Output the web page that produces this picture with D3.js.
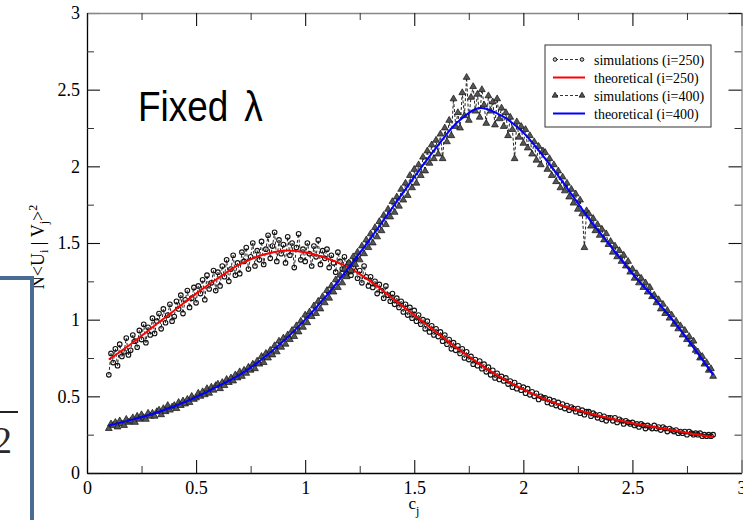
<!DOCTYPE html>
<html>
<head>
<meta charset="utf-8">
<script src="https://cdn.jsdelivr.net/npm/d3@7"></script>
<style>
body { margin: 0; background: #fff; }
svg { display: block; }
.tick text { font-family: "Liberation Serif", "Times New Roman", serif; font-size: 18px; fill: #000; }
</style>
</head>
<body>
<div id="chart"></div>
<script>
// c_j grid of the simulations
var simC = [0.10,0.11,0.12,0.13,0.14,0.15,0.16,0.17,0.18,0.19,
    0.20,0.21,0.22,0.23,0.24,0.25,0.26,0.27,0.28,0.29,
    0.30,0.31,0.32,0.33,0.34,0.35,0.36,0.37,0.38,0.39,
    0.40,0.41,0.42,0.43,0.44,0.45,0.46,0.47,0.48,0.49,
    0.50,0.51,0.52,0.53,0.54,0.55,0.56,0.57,0.58,0.59,
    0.60,0.61,0.62,0.63,0.64,0.65,0.66,0.67,0.68,0.69,
    0.70,0.71,0.72,0.73,0.74,0.75,0.76,0.77,0.78,0.79,
    0.80,0.81,0.82,0.83,0.84,0.85,0.86,0.87,0.88,0.89,
    0.90,0.91,0.92,0.93,0.94,0.95,0.96,0.97,0.98,0.99,
    1.00,1.01,1.02,1.03,1.04,1.05,1.06,1.07,1.08,1.09,
    1.10,1.11,1.12,1.13,1.14,1.15,1.16,1.17,1.18,1.19,
    1.20,1.21,1.22,1.23,1.24,1.25,1.26,1.27,1.28,1.29,
    1.30,1.31,1.32,1.33,1.34,1.35,1.36,1.37,1.38,1.39,
    1.40,1.41,1.42,1.43,1.44,1.45,1.46,1.47,1.48,1.49,
    1.50,1.51,1.52,1.53,1.54,1.55,1.56,1.57,1.58,1.59,
    1.60,1.61,1.62,1.63,1.64,1.65,1.66,1.67,1.68,1.69,
    1.70,1.71,1.72,1.73,1.74,1.75,1.76,1.77,1.78,1.79,
    1.80,1.81,1.82,1.83,1.84,1.85,1.86,1.87,1.88,1.89,
    1.90,1.91,1.92,1.93,1.94,1.95,1.96,1.97,1.98,1.99,
    2.00,2.01,2.02,2.03,2.04,2.05,2.06,2.07,2.08,2.09,
    2.10,2.11,2.12,2.13,2.14,2.15,2.16,2.17,2.18,2.19,
    2.20,2.21,2.22,2.23,2.24,2.25,2.26,2.27,2.28,2.29,
    2.30,2.31,2.32,2.33,2.34,2.35,2.36,2.37,2.38,2.39,
    2.40,2.41,2.42,2.43,2.44,2.45,2.46,2.47,2.48,2.49,
    2.50,2.51,2.52,2.53,2.54,2.55,2.56,2.57,2.58,2.59,
    2.60,2.61,2.62,2.63,2.64,2.65,2.66,2.67,2.68,2.69,
    2.70,2.71,2.72,2.73,2.74,2.75,2.76,2.77,2.78,2.79,
    2.80,2.81,2.82,2.83,2.84,2.85,2.86,2.87];

// simulations (i=250)
var simLow = [0.64,0.78,0.72,0.81,0.70,0.84,0.76,0.79,0.88,0.77,
    0.80,0.90,0.86,0.82,0.93,0.87,0.97,0.85,0.95,0.90,
    1.01,0.91,0.99,1.04,0.94,1.07,0.98,1.03,1.10,0.99,
    1.02,1.12,1.07,1.16,1.04,1.13,1.19,1.08,1.14,1.21,
    1.11,1.22,1.17,1.26,1.13,1.29,1.20,1.24,1.32,1.19,
    1.31,1.22,1.35,1.28,1.39,1.25,1.33,1.42,1.29,1.37,
    1.30,1.44,1.38,1.47,1.33,1.41,1.50,1.35,1.45,1.39,
    1.51,1.36,1.46,1.55,1.40,1.48,1.57,1.38,1.52,1.43,
    1.49,1.37,1.54,1.42,1.50,1.34,1.47,1.56,1.39,1.46,
    1.38,1.50,1.43,1.35,1.48,1.41,1.52,1.36,1.45,1.40,
    1.46,1.34,1.42,1.37,1.31,1.44,1.38,1.33,1.41,1.30,
    1.37,1.29,1.34,1.40,1.27,1.32,1.24,1.35,1.28,1.22,
    1.28,1.21,1.25,1.17,1.23,1.19,1.14,1.22,1.16,1.12,
    1.17,1.10,1.14,1.08,1.12,1.05,1.10,1.03,1.08,1.01,
    1.06,0.99,1.03,0.97,1.00,0.94,0.99,0.92,0.96,0.90,
    0.94,0.89,0.92,0.86,0.90,0.84,0.87,0.81,0.85,0.80,
    0.83,0.78,0.81,0.75,0.79,0.74,0.76,0.71,0.74,0.70,
    0.73,0.68,0.71,0.66,0.69,0.64,0.67,0.62,0.65,0.61,
    0.63,0.60,0.62,0.58,0.60,0.56,0.59,0.55,0.57,0.54,
    0.56,0.52,0.55,0.51,0.53,0.50,0.52,0.48,0.50,0.49,
    0.49,0.46,0.48,0.45,0.47,0.44,0.46,0.43,0.45,0.42,
    0.44,0.41,0.43,0.42,0.40,0.42,0.39,0.41,0.38,0.40,
    0.40,0.37,0.39,0.38,0.36,0.38,0.35,0.37,0.34,0.36,
    0.36,0.34,0.36,0.33,0.35,0.34,0.32,0.34,0.33,0.32,
    0.33,0.31,0.32,0.30,0.32,0.31,0.29,0.31,0.30,0.29,
    0.31,0.29,0.30,0.28,0.30,0.29,0.27,0.29,0.28,0.27,
    0.28,0.26,0.27,0.26,0.27,0.25,0.27,0.26,0.25,0.26,
    0.25,0.26,0.24,0.25,0.24,0.25,0.24,0.25];

// simulations (i=400)
var simHigh = [0.29,0.32,0.31,0.33,0.30,0.34,0.32,0.31,0.35,0.33,
    0.34,0.36,0.33,0.37,0.35,0.38,0.36,0.35,0.39,0.37,
    0.39,0.37,0.40,0.41,0.38,0.42,0.40,0.44,0.41,0.43,
    0.44,0.42,0.46,0.44,0.47,0.45,0.48,0.46,0.50,0.48,
    0.49,0.52,0.50,0.53,0.51,0.55,0.52,0.56,0.54,0.57,
    0.58,0.55,0.59,0.57,0.61,0.59,0.62,0.60,0.64,0.62,
    0.66,0.63,0.67,0.65,0.69,0.67,0.71,0.68,0.73,0.71,
    0.76,0.72,0.78,0.75,0.80,0.77,0.83,0.79,0.86,0.82,
    0.88,0.84,0.90,0.87,0.93,0.89,0.96,0.92,0.99,0.95,
    1.03,0.98,1.05,1.02,1.09,1.04,1.12,1.07,1.15,1.11,
    1.19,1.14,1.22,1.18,1.26,1.21,1.29,1.24,1.33,1.28,
    1.37,1.32,1.41,1.36,1.44,1.39,1.48,1.43,1.52,1.47,
    1.56,1.50,1.60,1.54,1.64,1.58,1.68,1.62,1.72,1.67,
    1.77,1.70,1.80,1.74,1.85,1.78,1.89,1.81,1.94,1.86,
    1.98,1.89,2.01,1.94,2.06,1.97,2.10,2.02,2.14,2.05,
    2.17,2.08,2.21,2.05,2.25,2.16,2.30,2.20,2.44,2.26,
    2.35,2.25,2.48,2.33,2.58,2.30,2.45,2.52,2.36,2.47,
    2.32,2.50,2.40,2.28,2.46,2.36,2.42,2.27,2.44,2.31,
    2.38,2.26,2.35,2.20,2.32,2.24,2.05,2.29,2.19,2.26,
    2.15,2.24,2.12,2.20,2.08,2.16,2.04,2.13,2.01,2.10,
    2.09,1.98,2.05,1.94,2.01,1.90,1.97,1.86,1.93,1.84,
    1.89,1.80,1.85,1.76,1.82,1.72,1.78,1.69,1.47,1.71,
    1.69,1.61,1.66,1.58,1.62,1.55,1.59,1.52,1.56,1.49,
    1.51,1.44,1.48,1.41,1.45,1.38,1.42,1.35,1.38,1.31,
    1.33,1.27,1.30,1.24,1.27,1.21,1.24,1.18,1.21,1.15,
    1.16,1.11,1.13,1.07,1.10,1.04,1.06,1.01,1.03,0.97,
    0.99,0.94,0.96,0.90,0.93,0.87,0.89,0.84,0.86,0.80,
    0.79,0.75,0.76,0.71,0.72,0.67,0.68,0.63];

// theoretical curves
var theoryC = [0.1,0.2,0.3,0.4,0.5,0.6,0.7,0.8,0.9,1.0,1.1,1.2,1.3,1.4,1.5,
    1.6,1.7,1.8,1.9,2.0,2.1,2.2,2.3,2.4,2.5,2.6,2.7,2.8,2.87];
var theoryLow = [0.74,0.84,0.95,1.06,1.17,1.27,1.36,1.42,1.45,1.44,1.40,1.34,1.25,1.14,1.03,
    0.92,0.81,0.71,0.62,0.545,0.48,0.43,0.39,0.355,0.325,0.30,0.275,0.25,0.235];
var theoryHigh = [0.31,0.345,0.385,0.435,0.495,0.565,0.64,0.74,0.86,1.00,1.16,1.34,1.53,1.73,1.93,
    2.12,2.29,2.38,2.33,2.22,2.05,1.86,1.66,1.48,1.30,1.14,0.97,0.78,0.64];

var majorTicks = [0,0.5,1,1.5,2,2.5,3];
var minorTicks = [0.25,0.75,1.25,1.75,2.25,2.75];

var legendLabels = ["simulations (i=250)","theoretical (i=250)","simulations (i=400)","theoretical (i=400)"];

var serif = "'Liberation Serif', 'Times New Roman', serif";

var svgWidth = 743;
var svgHeight = 520;

var margin = {
    top : 13,
    right : 1.5,
    bottom : 47,
    left : 87
};

var width = svgWidth - margin.left - margin.right;
var height = svgHeight - margin.top - margin.bottom;

var svg = d3.select("#chart")
    .append("svg")
    .attr("width", svgWidth)
    .attr("height", svgHeight);

var chartGroup = svg.append("g")
    .attr("transform", `translate(${margin.left}, ${margin.top})`);

var xScale = d3.scaleLinear().domain([0,3]).range([0,width]);
var yScale = d3.scaleLinear().domain([0,3]).range([height,0]);

//Axes: major + minor ticks pointing inward
function styleAxis(g, domainColor){
    g.select(".domain").attr("stroke", domainColor).attr("stroke-width", 1.3);
    g.selectAll(".tick line").attr("stroke", "#111").attr("stroke-width", 1.1);
}
function styleMinor(g){
    g.select(".domain").remove();
    g.selectAll(".tick line").attr("stroke", "#333");
}

chartGroup.append("g")
    .attr("transform", `translate(0,${height})`)
    .call(d3.axisBottom(xScale).tickValues(majorTicks).tickSizeInner(-13).tickSizeOuter(0).tickPadding(8).tickFormat(d=>d))
    .call(g=>styleAxis(g, "#000"));
chartGroup.append("g")
    .attr("transform", `translate(0,${height})`)
    .call(d3.axisBottom(xScale).tickValues(minorTicks).tickSizeInner(-7).tickSizeOuter(0).tickFormat(""))
    .call(styleMinor);

chartGroup.append("g")
    .call(d3.axisLeft(yScale).tickValues(majorTicks).tickSizeInner(-13).tickSizeOuter(0).tickPadding(7).tickFormat(d=>d))
    .call(g=>styleAxis(g, "#000"));
chartGroup.append("g")
    .call(d3.axisLeft(yScale).tickValues(minorTicks).tickSizeInner(-7).tickSizeOuter(0).tickFormat(""))
    .call(styleMinor);

chartGroup.append("g")
    .call(d3.axisTop(xScale).tickValues(majorTicks).tickSizeInner(-13).tickSizeOuter(0).tickFormat(""))
    .call(g=>styleAxis(g, "#888"));
chartGroup.append("g")
    .call(d3.axisTop(xScale).tickValues(minorTicks).tickSizeInner(-7).tickSizeOuter(0).tickFormat(""))
    .call(styleMinor);

chartGroup.append("g")
    .attr("transform", `translate(${width},0)`)
    .call(d3.axisRight(yScale).tickValues(majorTicks).tickSizeInner(-13).tickSizeOuter(0).tickFormat(""))
    .call(g=>styleAxis(g, "#888"));
chartGroup.append("g")
    .attr("transform", `translate(${width},0)`)
    .call(d3.axisRight(yScale).tickValues(minorTicks).tickSizeInner(-7).tickSizeOuter(0).tickFormat(""))
    .call(styleMinor);

//Axis titles
var xTitle = svg.append("text")
    .attr("x", 414)
    .attr("y", 509)
    .attr("text-anchor", "middle")
    .style("font-family", serif)
    .style("font-size", "17px")
    .text("c");
xTitle.append("tspan").attr("dy", 6).style("font-size", "12px").text("j");

var yTitle = svg.append("text")
    .attr("transform", "translate(44,247) rotate(-90)")
    .attr("text-anchor", "middle")
    .style("font-family", serif)
    .style("font-size", "18px");
yTitle.append("tspan").text("N<U");
yTitle.append("tspan").attr("dy", 4).style("font-size", "12px").text("i");
yTitle.append("tspan").attr("dy", -4).text(" | V");
yTitle.append("tspan").attr("dy", 4).style("font-size", "12px").text("j");
yTitle.append("tspan").attr("dy", -4).text(">");
yTitle.append("tspan").attr("dy", -7).style("font-size", "12px").text("2");

//Data series
var simLine = d3.line().x(d=>xScale(d[0])).y(d=>yScale(d[1]));
var theoryLine = d3.line().x(d=>xScale(d[0])).y(d=>yScale(d[1])).curve(d3.curveCatmullRom);

var lowData = simC.map((c,i)=>[c, simLow[i]]);
var highData = simC.map((c,i)=>[c, simHigh[i]]);
var lowTheory = theoryC.map((c,i)=>[c, theoryLow[i]]);
var highTheory = theoryC.map((c,i)=>[c, theoryHigh[i]]);

chartGroup.append("path")
    .datum(lowData)
    .attr("d", simLine)
    .attr("fill", "none")
    .attr("stroke", "#222")
    .attr("stroke-width", 1)
    .attr("stroke-dasharray", "3,2");
chartGroup.append("g").selectAll("circle")
    .data(lowData)
    .enter()
    .append("circle")
    .attr("cx", d=>xScale(d[0]))
    .attr("cy", d=>yScale(d[1]))
    .attr("r", 2.3)
    .attr("fill", "none")
    .attr("stroke", "#111")
    .attr("stroke-width", 1.1);
chartGroup.append("path")
    .datum(lowTheory)
    .attr("d", theoryLine)
    .attr("fill", "none")
    .attr("stroke", "#ff0000")
    .attr("stroke-width", 2);

chartGroup.append("path")
    .datum(highData)
    .attr("d", simLine)
    .attr("fill", "none")
    .attr("stroke", "#222")
    .attr("stroke-width", 1)
    .attr("stroke-dasharray", "3,2");
chartGroup.append("g").selectAll("path")
    .data(highData)
    .enter()
    .append("path")
    .attr("transform", d=>`translate(${xScale(d[0])},${yScale(d[1])})`)
    .attr("d", d3.symbol().type(d3.symbolTriangle).size(20))
    .attr("fill", "#555")
    .attr("stroke", "#111")
    .attr("stroke-width", 0.7);
chartGroup.append("path")
    .datum(highTheory)
    .attr("d", theoryLine)
    .attr("fill", "none")
    .attr("stroke", "#0000ff")
    .attr("stroke-width", 2);

//Legend
var legend = svg.append("g").attr("transform", "translate(545,45)");
legend.append("rect")
    .attr("width", 166)
    .attr("height", 82)
    .attr("fill", "#fff")
    .attr("stroke", "#333")
    .attr("stroke-width", 1);
legendLabels.forEach(function(label, i){
    var row = legend.append("g").attr("transform", `translate(0,${14.5 + i * 18})`);
    if (i % 2 == 0) {
        row.append("line").attr("x1", 10).attr("x2", 37)
            .attr("stroke", "#333").attr("stroke-dasharray", "3,2");
        [10, 37].forEach(function(px){
            if (i == 0) {
                row.append("circle").attr("cx", px).attr("r", 1.8)
                    .attr("fill", "#ccc").attr("stroke", "#111");
            } else {
                row.append("path").attr("transform", `translate(${px},0)`)
                    .attr("d", d3.symbol().type(d3.symbolTriangle).size(14))
                    .attr("fill", "#555").attr("stroke", "#111").attr("stroke-width", 0.8);
            }
        });
    } else {
        row.append("line").attr("x1", 8).attr("x2", 40)
            .attr("stroke", i == 1 ? "#ff0000" : "#0000ff").attr("stroke-width", 2);
    }
    row.append("text")
        .attr("x", 49)
        .attr("y", 5)
        .style("font-family", serif)
        .style("font-size", "14px")
        .text(label);
});

//Slide annotation
var note = svg.append("text")
    .attr("transform", "translate(138,121) scale(0.88,1)")
    .style("font-family", "'Liberation Sans', Arial, sans-serif")
    .style("font-size", "42px")
    .attr("fill", "#000");
note.append("tspan").text("Fixed");
note.append("tspan").attr("dx", 18).text("λ");

//Fragment of the neighbouring slide box on the left
svg.append("path")
    .attr("d", "M0,278 H32 V520")
    .attr("fill", "none")
    .attr("stroke", "#4a6b94")
    .attr("stroke-width", 4);
svg.append("line")
    .attr("x1", 0).attr("x2", 18)
    .attr("y1", 412).attr("y2", 412)
    .attr("stroke", "#222")
    .attr("stroke-width", 2);
svg.append("text")
    .attr("x", 12)
    .attr("y", 453)
    .attr("text-anchor", "end")
    .style("font-family", serif)
    .style("font-size", "38px")
    .attr("fill", "#2a2a2a")
    .text("2");
</script>
</body>
</html>
